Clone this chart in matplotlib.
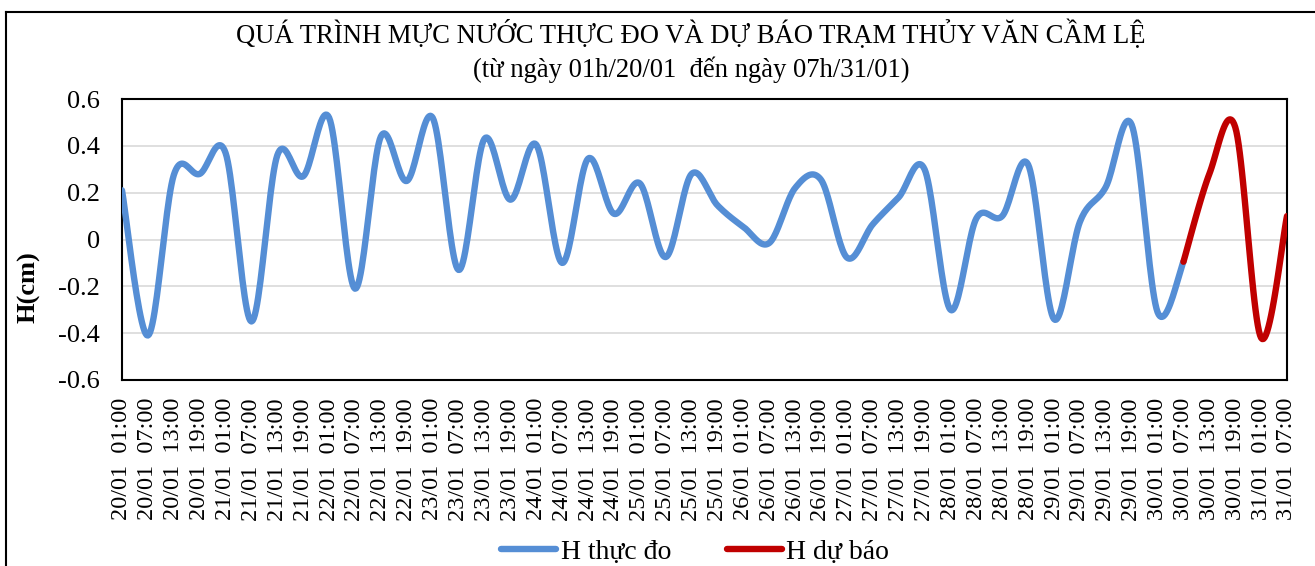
import numpy as np
import pandas as pd
import matplotlib
matplotlib.use('Agg')
import matplotlib.pyplot as plt
from matplotlib.lines import Line2D

plt.rcParams['font.family'] = ['Liberation Serif', 'DejaVu Serif']

# nhan truc x: moi 6 gio tu 01h 20/01 den 07h 31/01
times = pd.date_range('2021-01-20 01:00', '2021-01-31 07:00', freq='6h')
tick_labels = [t.strftime('%d/%m  %H:%M') for t in times]

# muc nuoc thuc do (20/01 01:00 -> 30/01 07:00)
h_obs = [0.21, -0.41, 0.275, 0.28, 0.37, -0.35, 0.36, 0.27, 0.52, -0.21,
         0.44, 0.25, 0.52, -0.13, 0.43, 0.17, 0.405, -0.10, 0.345, 0.11,
         0.24, -0.075, 0.28, 0.146, 0.054, -0.015, 0.22, 0.255, -0.077, 0.065,
         0.18, 0.30, -0.30, 0.09, 0.10, 0.32, -0.34, 0.075, 0.224, 0.49,
         -0.31, -0.095]
# muc nuoc du bao (30/01 07:00 -> 31/01 07:00)
h_fc = [-0.095, 0.28, 0.48, -0.42, 0.10]

yticks = [-0.6, -0.4, -0.2, 0, 0.2, 0.4, 0.6]
ytick_labels = ['-0.6', '-0.4', '-0.2', '0', '0.2', '0.4', '0.6']

c_obs = '#558ED5'
c_fc = '#C00000'


def smooth(x, y, n=24):
    # duong cong kieu Excel (bezier qua cac diem)
    x = np.asarray(x, float)
    y = np.asarray(y, float)
    xs, ys = [], []
    m = len(x)
    for i in range(m - 1):
        p0 = i - 1 if i > 0 else i
        p3 = i + 2 if i + 2 < m else i + 1
        c1x = x[i] + (x[i + 1] - x[p0]) / 6
        c1y = y[i] + (y[i + 1] - y[p0]) / 6
        c2x = x[i + 1] - (x[p3] - x[i]) / 6
        c2y = y[i + 1] - (y[p3] - y[i]) / 6
        t = np.linspace(0, 1, n)
        a = (1 - t) ** 3
        b = 3 * (1 - t) ** 2 * t
        c = 3 * (1 - t) * t ** 2
        d = t ** 3
        xs.append(a * x[i] + b * c1x + c * c2x + d * x[i + 1])
        ys.append(a * y[i] + b * c1y + c * c2y + d * y[i + 1])
    return np.concatenate(xs), np.concatenate(ys)


fig = plt.figure(figsize=(13.15, 5.66), dpi=100)
ax = fig.add_axes([122 / 1315, 1 - 380 / 566, 1165 / 1315, 281 / 566])

idx = np.arange(len(tick_labels))
x_obs = idx[:len(h_obs)]
x_fc = idx[len(h_obs) - 1:len(h_obs) - 1 + len(h_fc)]

sx, sy = smooth(x_obs, h_obs)
ax.plot(sx, sy, color=c_obs, lw=4.6, solid_capstyle='round', label='H thực đo', zorder=3)
sx, sy = smooth(x_fc, h_fc)
ax.plot(sx, sy, color=c_fc, lw=4.6, solid_capstyle='round', label='H dự báo', zorder=4)

ax.set_xlim(0, len(tick_labels) - 1)
ax.set_ylim(-0.6, 0.6)
ax.set_yticks(yticks)
ax.set_yticklabels(ytick_labels, fontsize=19)
ax.set_xticks(idx)
ax.set_xticklabels(tick_labels, rotation=90, fontsize=17.5)
ax.tick_params(axis='both', length=0)
ax.tick_params(axis='y', pad=16)
ax.tick_params(axis='x', pad=13)
ax.grid(axis='y', color='#D9D9D9', lw=1.2)
ax.set_axisbelow(True)
for s in ax.spines.values():
    s.set_linewidth(1.5)
    s.set_color('black')

fig.text(29 / 1315, 1 - 287 / 566, 'H(cm)', rotation=90, fontsize=19,
         fontweight='bold', ha='center', va='center')

fig.text(691 / 1315, 1 - 34 / 566,
         'QUÁ TRÌNH MỰC NƯỚC THỰC ĐO VÀ DỰ BÁO TRẠM THỦY VĂN CẦM LỆ',
         fontsize=19.2, ha='center', va='center')
fig.text(691 / 1315, 1 - 70 / 566,
         '(từ ngày 01h/20/01  đến ngày 07h/31/01)',
         fontsize=19.2, ha='center', va='center')

fig.legend(loc='center', bbox_to_anchor=(695 / 1315, 1 - 552 / 566), ncol=2,
           frameon=False, fontsize=20, handlelength=2.0, handletextpad=0.15,
           columnspacing=2.0, borderpad=0)

# khung ngoai cua bieu do
fig.add_artist(Line2D([6.5 / 1315, 1.0], [1 - 11.5 / 566, 1 - 11.5 / 566],
                      transform=fig.transFigure, color='black', lw=1.5))
fig.add_artist(Line2D([6.5 / 1315, 6.5 / 1315], [1 - 11.5 / 566, 0],
                      transform=fig.transFigure, color='black', lw=1.5))

fig.savefig('out.png', dpi=100)
